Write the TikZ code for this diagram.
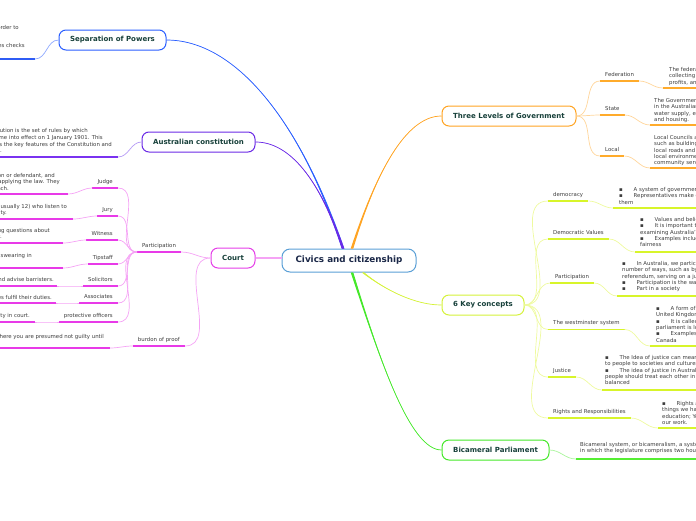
\documentclass[tikz,border=0pt]{standalone}
\usepackage{fontspec}
\setmainfont{DejaVu Sans}
\definecolor{rootc}{HTML}{5A9FD6}
\definecolor{roottxt}{HTML}{1B2848}
\definecolor{topictxt}{HTML}{17403A}
\definecolor{txtc}{HTML}{3D3D3D}
\definecolor{sepc}{HTML}{2B5FFF}
\definecolor{sepl}{HTML}{8FA9FF}
\definecolor{sepu}{HTML}{2F5CF5}
\definecolor{ausc}{HTML}{6B2AE6}
\definecolor{ausl}{HTML}{B59AF5}
\definecolor{ausu}{HTML}{7A32F0}
\definecolor{crtc}{HTML}{E53EE8}
\definecolor{crtl}{HTML}{F5A3F5}
\definecolor{crtu}{HTML}{E83AE8}
\definecolor{tlgc}{HTML}{FFA423}
\definecolor{tlgl}{HTML}{FFD59A}
\definecolor{tlgu}{HTML}{FFAB2B}
\definecolor{keyc}{HTML}{D5F23A}
\definecolor{keyl}{HTML}{EEFA9E}
\definecolor{keyu}{HTML}{D8F52A}
\definecolor{bicc}{HTML}{45E82A}
\definecolor{bicl}{HTML}{A8F59A}
\definecolor{bicu}{HTML}{55EE33}
\tikzset{
    every node/.style={inner sep=0pt},
    root/.style={draw=rootc, line width=1pt, fill=white, rounded corners=8pt,
    	minimum width=134pt, minimum height=23pt,
    	font=\fontsize{8.8}{10}\bfseries, text=roottxt},
    topic/.style={draw=#1, line width=1pt, fill=white, rounded corners=7pt,
    	minimum height=20pt, font=\fontsize{7}{8}\bfseries, text=topictxt}
}
\tikzset{
    lab/.style={font=\fontsize{5.4}{6.4}\selectfont, text=txtc,
    	inner xsep=5pt, inner ysep=3pt, text height=4pt, text depth=1.5pt},
    para/.style={font=\fontsize{5.4}{6.4}\selectfont, text=txtc, align=left,
    	anchor=north west},
    txtline/.style={font=\fontsize{5.4}{6.4}\selectfont, text=txtc,
    	anchor=base east},
    ul/.style={draw=#1, line width=1.6pt},
    con/.style={draw=#1, line width=0.7pt}
}
\newcommand{\bul}{\makebox[14.5pt][l]{▪}}
% tapered main branch: colour, start, control 1, control 2, end
\newcommand{\branchcurve}[5]{%
	\fill[#1] ([xshift=-1.3pt]#2) .. controls (#3) and (#4) .. (#5)
		.. controls (#4) and (#3) .. ([xshift=1.3pt]#2) -- cycle;
	\draw[#1, line width=0.7pt] (#2) .. controls (#3) and (#4) .. (#5);
}

\begin{document}
\begin{tikzpicture}[x=1pt, y=-1pt]
	\useasboundingbox (0,0) rectangle (696,520);
	\clip (0,0) rectangle (696,520);

	% centre and main topics
	\node[root] (civ) at (349,260.5) {Civics and citizenship};
	\node[topic=sepc, minimum width=107pt] (sep) at (112.5,40) {Separation of Powers};
	\node[topic=ausc, minimum width=113pt] (aus) at (198.5,142) {Australian constitution};
	\node[topic=crtc, minimum width=44pt] (court) at (233,258) {Court};
	\node[topic=tlgc, minimum width=134pt] (tlg) at (509,116) {Three Levels of Government};
	\node[topic=keyc, minimum width=82pt] (key) at (483,305) {6 Key concepts};
	\node[topic=bicc, minimum width=107pt] (bic) at (495.5,450) {Bicameral Parliament};

	\coordinate (s1) at ([xshift=-6pt]civ.north);
	\coordinate (s2) at ([xshift=3pt]civ.north);
	\coordinate (s3) at ([xshift=14pt]civ.south);
	\coordinate (s4) at ([xshift=3pt]civ.south);
	\branchcurve{sepc}{s1}{300,120}{235,40}{sep.east}
	\branchcurve{ausc}{s1}{320,180}{290,142}{aus.east}
	\branchcurve{tlgc}{s2}{380,160}{410,116}{tlg.west}
	\branchcurve{keyc}{s3}{385,290}{415,305}{key.west}
	\branchcurve{bicc}{s4}{380,360}{410,450}{bic.west}
	\draw[con=crtl, line width=1.2pt] (court.east) -- (court.east -| civ.west);

	% Three Levels of Government
	\node[lab, anchor=south west] (fed) at (600,81) {Federation};
	\node[lab, anchor=south west] (st) at (600,115) {State};
	\node[lab, anchor=south west] (lc) at (600,156) {Local};
	\draw[con=tlgl] (tlg.east) to[out=0,in=180] (fed.south west);
	\draw[con=tlgl] (tlg.east) to[out=0,in=180] (st.south west);
	\draw[con=tlgl] (tlg.east) to[out=0,in=180] (lc.south west);
	\draw[ul=tlgu] (fed.south west) -- (fed.south east);
	\draw[ul=tlgu] (st.south west) -- (st.south east);
	\draw[ul=tlgu] (lc.south west) -- (lc.south east);
	\node[para] (fedp) at (669,67) {The federal government is responsible for\\collecting taxes on incomes and company\\profits, and for defence and foreign affairs.};
	\node[para] (stp) at (654,98) {The Government of each of the six states\\in the Australian federation is responsible for\\water supply, education, hospitals, police\\and housing.};
	\node[para] (lcp) at (654,135) {Local Councils are responsible for services\\such as building regulations,\\local roads and footpaths,\\local environmental issues and\\community services.};
	\coordinate (fedu) at (663,88);
	\coordinate (stu) at (650,125);
	\coordinate (lcu) at (650,168);
	\draw[con=tlgl] (fed.south east) to[out=0,in=180] (fedu);
	\draw[con=tlgl] (st.south east) to[out=0,in=180] (stu);
	\draw[con=tlgl] (lc.south east) to[out=0,in=180] (lcu);
	\draw[ul=tlgu] (fedu) -- ++(60,0);
	\draw[ul=tlgu] (stu) -- ++(60,0);
	\draw[ul=tlgu] (lcu) -- ++(60,0);

	% 6 Key concepts
	\node[lab, anchor=south west] (dm) at (548,201) {democracy};
	\node[lab, anchor=south west] (dv) at (548,239) {Democratic Values};
	\node[lab, anchor=south west] (kp) at (550,283) {Participation};
	\node[lab, anchor=south west] (wm) at (548,329.5) {The westminster system};
	\node[lab, anchor=south west] (js) at (548,377) {Justice};
	\node[lab, anchor=south west] (rr) at (548,418) {Rights and Responsibilities};
	\draw[con=keyl] (key.east) to[out=0,in=180] (dm.south west);
	\draw[con=keyl] (key.east) to[out=0,in=180] (dv.south west);
	\draw[con=keyl] (key.east) to[out=0,in=180] (kp.south west);
	\draw[con=keyl] (key.east) to[out=0,in=180] (wm.south west);
	\draw[con=keyl] (key.east) to[out=0,in=180] (js.south west);
	\draw[con=keyl] (key.east) to[out=0,in=180] (rr.south west);
	\draw[ul=keyu] (dm.south west) -- (dm.south east);
	\draw[ul=keyu] (dv.south west) -- (dv.south east);
	\draw[ul=keyu] (kp.south west) -- (kp.south east);
	\draw[ul=keyu] (wm.south west) -- (wm.south east);
	\draw[ul=keyu] (js.south west) -- (js.south east);
	\draw[ul=keyu] (rr.south west) -- (rr.south east);
	\node[para] (dmp) at (619,187) {\bul A system of government by the people\\\bul Representatives make decisions for the people who elect\\them};
	\node[para] (dvp) at (640,217) {\bul Values and beliefs that underpin our democracy\\\bul It is important to understand them when\\examining Australia's democracy\\\bul Examples include freedom and\\fairness};
	\node[para] (kpp) at (622,261) {\bul In Australia, we participate in democracy in a\\number of ways, such as by voting in an election or a\\referendum, serving on a jury or joining a party\\\bul Participation is the way citizens take part\\\bul Part in a society};
	\node[para] (wmp) at (656,306) {\bul A form of government that began in the\\United Kingdom\\\bul It is called Westminster because the\\parliament is located in Westminster\\\bul Examples include Australia and\\Canada};
	\node[para] (jsp) at (605,355) {\bul The Idea of justice can mean different things\\to people to societies and cultures\\\bul The idea of justice in Australia is that\\people should treat each other in a way that is fair and\\balanced};
	\node[para] (rrp) at (662,401) {\bul Rights are the\\things we have, like free\\education; You must do\\our work.};
	\coordinate (dmu) at (613,208);
	\coordinate (dvu) at (635,252);
	\coordinate (kpu) at (617,296);
	\coordinate (wmu) at (650,346);
	\coordinate (jsu) at (602,390);
	\coordinate (rru) at (658,428);
	\draw[con=keyl] (dm.south east) to[out=0,in=180] (dmu);
	\draw[con=keyl] (dv.south east) to[out=0,in=180] (dvu);
	\draw[con=keyl] (kp.south east) to[out=0,in=180] (kpu);
	\draw[con=keyl] (wm.south east) to[out=0,in=180] (wmu);
	\draw[con=keyl] (js.south east) to[out=0,in=180] (jsu);
	\draw[con=keyl] (rr.south east) to[out=0,in=180] (rru);
	\draw[ul=keyu] (dmu) -- ++(100,0);
	\draw[ul=keyu] (dvu) -- ++(100,0);
	\draw[ul=keyu] (kpu) -- ++(100,0);
	\draw[ul=keyu] (wmu) -- ++(100,0);
	\draw[ul=keyu] (jsu) -- ++(100,0);
	\draw[ul=keyu] (rru) -- ++(100,0);

	% Bicameral Parliament
	\node[para] (bcp) at (580,442) {Bicameral system, or bicameralism, a system of government\\in which the legislature comprises two houses.};
	\coordinate (bcu) at (576,459);
	\draw[con=bicl] (bic.east) to[out=0,in=180] (bcu);
	\draw[ul=bicu] (bcu) -- ++(130,0);

	% Separation of Powers
	\node[txtline] (sp1) at (19,29) {The powers of government are separated in order to};
	\node[txtline] (sp2) at (25,47) {This separation provides checks};
	\coordinate (sepu) at (35,59);
	\draw[con=sepl] (sep.west) to[out=180,in=0] (sepu);
	\draw[ul=sepu] (sepu) -- ++(-60,0);

	% Australian constitution
	\node[txtline] (ac1) at (88,132) {The Australian Constitution is the set of rules by which};
	\node[txtline] (ac2) at (103,139) {Australia is governed. It came into effect on 1 January 1901. This};
	\node[txtline] (ac3) at (112,146) {This unit explores the key features of the Constitution and};
	\node[txtline] (ac4) at (2,152) {how it works.};
	\coordinate (ausu) at (118,157);
	\draw[con=ausl] (aus.west) to[out=180,in=0] (ausu);
	\draw[ul=ausu] (ausu) -- ++(-130,0);

	% Court
	\node[lab, anchor=south west] (cpart) at (137,252) {Participation};
	\node[lab, anchor=south east] (bur) at (185,346) {burdon of proof};
	\draw[con=crtl] (court.west) to[out=180,in=0] (cpart.south east);
	\draw[con=crtl] (court.west) to[out=180,in=0] (bur.south east);
	\draw[ul=crtu] (cpart.south west) -- (cpart.south east);
	\draw[ul=crtu] (bur.south west) -- (bur.south east);
	\node[lab, anchor=south east] (judge) at (118,188) {Judge};
	\node[lab, anchor=south east] (jury) at (118,216) {Jury};
	\node[lab, anchor=south east] (wit) at (118,240) {Witness};
	\node[lab, anchor=south east] (tip) at (118,264) {Tipstaff};
	\node[lab, anchor=south east] (sol) at (118,286) {Solicitors};
	\node[lab, anchor=south east] (asc) at (118,303) {Associates};
	\node[lab, anchor=south east] (pro) at (118,322) {protective officers};
	\draw[con=crtl] (cpart.south west) to[out=180,in=0] (judge.south east);
	\draw[con=crtl] (cpart.south west) to[out=180,in=0] (jury.south east);
	\draw[con=crtl] (cpart.south west) to[out=180,in=0] (wit.south east);
	\draw[con=crtl] (cpart.south west) to[out=180,in=0] (tip.south east);
	\draw[con=crtl] (cpart.south west) to[out=180,in=0] (sol.south east);
	\draw[con=crtl] (cpart.south west) to[out=180,in=0] (asc.south east);
	\draw[con=crtl] (cpart.south west) to[out=180,in=0] (pro.south east);
	\draw[ul=crtu] (judge.south west) -- (judge.south east);
	\draw[ul=crtu] (jury.south west) -- (jury.south east);
	\draw[ul=crtu] (wit.south west) -- (wit.south east);
	\draw[ul=crtu] (tip.south west) -- (tip.south east);
	\draw[ul=crtu] (sol.south west) -- (sol.south east);
	\draw[ul=crtu] (asc.south west) -- (asc.south east);
	\draw[ul=crtu] (pro.south west) -- (pro.south east);

	\node[txtline] (jd1) at (55,177) {The judge listens to the prosecution or defendant, and};
	\node[txtline] (jd2) at (60,183) {makes decisions by applying the law. They};
	\node[txtline] (jd3) at (9,190) {sit at the bench.};
	\node[txtline] (jy1) at (67,208) {A group of citizens (usually 12) who listen to};
	\node[txtline] (jy2) at (7,214) {the evidence and decide on guilt or liability.};
	\node[txtline] (wt1) at (50,232) {A person who gives evidence by answering questions about};
	\node[txtline] (wt2) at (2,238) {what they saw or know.};
	\node[txtline] (tp1) at (32,257) {The tipstaff keeps order in court and helps with the swearing in};
	\node[txtline] (sl1) at (54,281) {Solicitors prepare the case and advise barristers.};
	\node[txtline] (as1) at (52,299) {Associates help judges fulfil their duties.};
	\node[txtline] (po1) at (30,317) {Protective officers maintain security in court.};
	\node[txtline] (bp1) at (104,338) {A legal principle where you are presumed not guilty until};

	\coordinate (jdu) at (68,194);
	\coordinate (jyu) at (73,219);
	\coordinate (wtu) at (63,243);
	\coordinate (tpu) at (63,268);
	\coordinate (slu) at (57,286);
	\coordinate (asu) at (56,303);
	\coordinate (pou) at (35,322);
	\coordinate (bpu) at (110,348);
	\draw[con=crtl] (judge.south west) to[out=180,in=0] (jdu);
	\draw[con=crtl] (jury.south west) to[out=180,in=0] (jyu);
	\draw[con=crtl] (wit.south west) to[out=180,in=0] (wtu);
	\draw[con=crtl] (tip.south west) to[out=180,in=0] (tpu);
	\draw[con=crtl] (sol.south west) to[out=180,in=0] (slu);
	\draw[con=crtl] (asc.south west) to[out=180,in=0] (asu);
	\draw[con=crtl] (pro.south west) to[out=180,in=0] (pou);
	\draw[con=crtl] (bur.south west) to[out=180,in=0] (bpu);
	\draw[ul=crtu] (jdu) -- ++(-80,0);
	\draw[ul=crtu] (jyu) -- ++(-80,0);
	\draw[ul=crtu] (wtu) -- ++(-80,0);
	\draw[ul=crtu] (tpu) -- ++(-80,0);
	\draw[ul=crtu] (slu) -- ++(-80,0);
	\draw[ul=crtu] (asu) -- ++(-80,0);
	\draw[ul=crtu] (pou) -- ++(-80,0);
	\draw[ul=crtu] (bpu) -- ++(-120,0);
\end{tikzpicture}
\end{document}
